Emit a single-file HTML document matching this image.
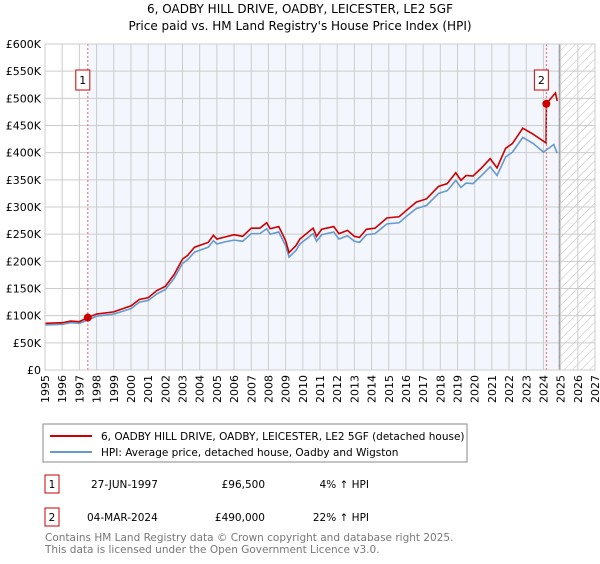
<!DOCTYPE html>
<html><head><meta charset="utf-8"><style>
body{margin:0;background:#fff;font-family:"DejaVu Sans","Liberation Sans",sans-serif;}
svg text{font-family:"DejaVu Sans","Liberation Sans",sans-serif;}
</style></head><body>
<svg id="chart" width="600" height="560">
<defs><pattern id="hatch" width="6" height="6" patternUnits="userSpaceOnUse" patternTransform="rotate(45)"><line x1="0" y1="0" x2="0" y2="6" stroke="#bbb" stroke-width="1"/></pattern></defs>
<text x="300" y="13" text-anchor="middle" font-size="12">6, OADBY HILL DRIVE, OADBY, LEICESTER, LE2 5GF</text>
<text x="300" y="30" text-anchor="middle" font-size="12">Price paid vs. HM Land Registry's House Price Index (HPI)</text>
<g id="plot"></g>
<rect x="43" y="424" width="424" height="38" fill="#fff" stroke="#888"/>
<line x1="50" y1="436" x2="92" y2="436" stroke="#cc0000" stroke-width="2"/>
<text x="101" y="440" font-size="10.5">6, OADBY HILL DRIVE, OADBY, LEICESTER, LE2 5GF (detached house)</text>
<line x1="50" y1="452" x2="92" y2="452" stroke="#6699cc" stroke-width="2"/>
<text x="101" y="456" font-size="10.5">HPI: Average price, detached house, Oadby and Wigston</text>
<g font-size="10.5">
<rect x="45" y="475" width="14" height="18" fill="#fff" stroke="#cc0000"/><text x="52" y="488" text-anchor="middle">1</text>
<text x="91" y="488">27-JUN-1997</text><text x="265" y="488" text-anchor="end">£96,500</text><text x="369" y="488" text-anchor="end">4% ↑ HPI</text>
<rect x="45" y="508" width="14" height="18" fill="#fff" stroke="#cc0000"/><text x="52" y="521" text-anchor="middle">2</text>
<text x="87" y="521">04-MAR-2024</text><text x="265" y="521" text-anchor="end">£490,000</text><text x="369" y="521" text-anchor="end">22% ↑ HPI</text>
</g>
<text x="45" y="541" font-size="10.5" fill="#777">Contains HM Land Registry data © Crown copyright and database right 2025.</text>
<text x="45" y="553" font-size="10.5" fill="#777">This data is licensed under the Open Government Licence v3.0.</text>
</svg>
<script>
const years=[1995,1996,1997,1998,1999,2000,2001,2002,2003,2004,2005,2006,2007,2008,2009,2010,2011,2012,2013,2014,2015,2016,2017,2018,2019,2020,2021,2022,2023,2024,2025,2026,2027];
const yTicks=[0,50,100,150,200,250,300,350,400,450,500,550,600];
const hpiDates=[1995.0,1996.0,1996.5,1997.0,1997.5,1998.0,1999.0,2000.0,2000.5,2001.0,2001.5,2002.0,2002.5,2003.0,2003.3,2003.7,2004.5,2004.8,2005.0,2005.5,2006.0,2006.5,2007.0,2007.5,2007.9,2008.1,2008.6,2009.0,2009.2,2009.6,2009.83,2010.6,2010.8,2011.1,2011.8,2012.1,2012.6,2013.0,2013.3,2013.7,2014.2,2014.9,2015.6,2016.0,2016.6,2017.2,2017.9,2018.4,2018.9,2019.2,2019.5,2019.9,2020.4,2020.9,2021.3,2021.8,2022.2,2022.8,2023.4,2024.0,2024.6,2024.8];
const hpiValues=[83,84,87,86,92,99,103,113,125,128,140,148,168,196,203,217,226,238,232,236,239,237,251,251,260,250,254,229,208,220,232,251,237,249,254,241,247,237,235,249,251,269,271,282,297,303,325,330,349,336,344,343,358,374,358,392,401,428,417,401,415,399];
const priceDates=[1995.0,1996.0,1996.5,1997.0,1997.49,1998.0,1999.0,2000.0,2000.5,2001.0,2001.5,2002.0,2002.5,2003.0,2003.3,2003.7,2004.5,2004.8,2005.0,2005.5,2006.0,2006.5,2007.0,2007.5,2007.9,2008.1,2008.6,2009.0,2009.2,2009.6,2009.83,2010.6,2010.8,2011.1,2011.8,2012.1,2012.6,2013.0,2013.3,2013.7,2014.2,2014.9,2015.6,2016.0,2016.6,2017.2,2017.9,2018.4,2018.9,2019.2,2019.5,2019.9,2020.4,2020.9,2021.3,2021.8,2022.2,2022.8,2023.4,2024.15,2024.17,2024.7,2024.8];
const priceValues=[86,87,90,89,96.5,103,107,118,130,133,146,154,175,204,211,226,235,248,241,245,249,246,261,261,271,260,264,238,216,229,241,261,246,259,264,251,257,246,244,259,261,280,282,293,309,315,338,343,363,349,358,357,372,389,372,408,417,445,434,418,490,510,495];
const sales=[{n:"1",date:1997.49,value:96.5},{n:"2",date:2024.17,value:490}];
const X0=45,X1=595,Y0=370,Y1=44;
const xs=y=>X0+(y-1995)/(2027-1995)*(X1-X0);
const ys=v=>Y0-v/600*(Y0-Y1);
const ns="http://www.w3.org/2000/svg";
const g=document.getElementById('plot');
function mk(t,a){const e=document.createElementNS(ns,t);for(const k in a)e.setAttribute(k,a[k]);g.appendChild(e);return e;}
mk('rect',{x:xs(sales[0].date),y:Y1,width:xs(2024.92)-xs(sales[0].date),height:Y0-Y1,fill:'#eef3fc',opacity:0.7});
mk('rect',{x:xs(2024.92),y:Y1,width:X1-xs(2024.92),height:Y0-Y1,fill:'url(#hatch)'});
for(const v of yTicks){
 const l=mk('line',{x1:X0,x2:X1,y1:ys(v),y2:ys(v),stroke:'#ccc'});
 
 
 const t=mk('text',{x:X0-4,y:ys(v)+4,'text-anchor':'end','font-size':11});
 t.textContent=v===0?'£0':'£'+v+'K';
 
 
}
for(const yr of years){
 const l=mk('line',{x1:xs(yr),x2:xs(yr),y1:Y1,y2:Y0,stroke:'#ccc'});
 
 
 const t=mk('text',{x:0,y:0,'text-anchor':'end','font-size':11,transform:`translate(${xs(yr)+4},${Y0+5}) rotate(-90)`});
 t.textContent=yr;
 
 
}
mk('line',{x1:xs(2024.92),x2:xs(2024.92),y1:Y1,y2:Y0,stroke:'#888'});
const hp=mk('polyline',{points:hpiDates.map((d,i)=>xs(d)+','+ys(hpiValues[i])).join(' '),fill:'none',stroke:'#6699cc','stroke-width':1.6});


const pp=mk('polyline',{points:priceDates.map((d,i)=>xs(d)+','+ys(priceValues[i])).join(' '),fill:'none',stroke:'#cc0000','stroke-width':1.6});


for(const s of sales){
 const l=mk('line',{x1:xs(s.date),x2:xs(s.date),y1:Y1,y2:Y0,stroke:'#e66','stroke-dasharray':'2,2'});
 
 
 const c=mk('circle',{cx:xs(s.date),cy:ys(s.value),r:4,fill:'#cc0000'});
 
 
 const b=mk('rect',{x:xs(s.date)-12,y:70,width:14,height:20,fill:'#fff',stroke:'#cc0000'});
 
 
 const t=mk('text',{x:xs(s.date)-5,y:84,'text-anchor':'middle','font-size':11});
 t.textContent=s.n;
 
 
}
mk('rect',{x:X0,y:Y1,width:X1-X0,height:Y0-Y1,fill:'none',stroke:'#ccc'});
</script>
</body></html>
